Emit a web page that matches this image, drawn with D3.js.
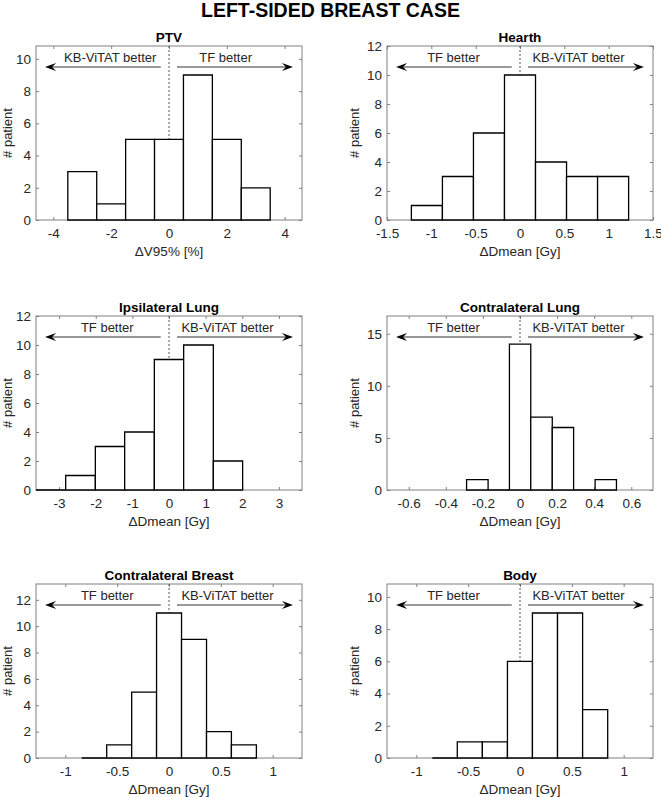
<!DOCTYPE html>
<html>
<head>
<meta charset="utf-8">
<script src="https://cdn.jsdelivr.net/npm/d3@7"></script>
<style>
  body { margin: 0; background: #fff; }
  text { font-family: "Liberation Sans", Arial, Helvetica, sans-serif; fill: #262626; }
</style>
</head>
<body>
<div id="chart-area"></div>
<script>
// figure data
var figTitle = "LEFT-SIDED BREAST CASE";
var panelTitles = ["PTV", "Hearth", "Ipsilateral Lung", "Contralateral Lung", "Contralateral Breast", "Body"];
var xLabels = ["\u0394V95% [%]", "\u0394Dmean [Gy]", "\u0394Dmean [Gy]", "\u0394Dmean [Gy]", "\u0394Dmean [Gy]", "\u0394Dmean [Gy]"];
var leftLabels = ["KB-ViTAT better", "TF better", "TF better", "TF better", "TF better", "TF better"];
var rightLabels = ["TF better", "KB-ViTAT better", "KB-ViTAT better", "KB-ViTAT better", "KB-ViTAT better", "KB-ViTAT better"];

// histogram bin edges and counts
var binEdges = [
  [-3.5, -2.5, -1.5, -0.5, 0.5, 1.5, 2.5, 3.5],
  [-1.225, -0.875, -0.525, -0.175, 0.175, 0.525, 0.875, 1.225],
  [-3.63, -2.82, -2.01, -1.21, -0.40, 0.40, 1.21, 2.01],
  [-0.288, -0.172, -0.057, 0.058, 0.174, 0.289, 0.405, 0.52],
  [-0.842, -0.601, -0.36, -0.12, 0.121, 0.362, 0.602, 0.843],
  [-0.846, -0.605, -0.363, -0.121, 0.12, 0.362, 0.604, 0.846]
];
var counts = [
  [3, 1, 5, 5, 9, 5, 2],
  [1, 3, 6, 10, 4, 3, 3],
  [0, 1, 3, 4, 9, 10, 2],
  [1, 0, 14, 7, 6, 0, 1],
  [0, 1, 5, 11, 9, 2, 1],
  [0, 1, 1, 6, 9, 9, 3]
];

// axis limits and ticks
var xDomains = [[-4.6, 4.6], [-1.5, 1.5], [-3.63, 3.63], [-0.717, 0.717], [-1.283, 1.283], [-1.283, 1.283]];
var yDomains = [[0, 10.8], [0, 12], [0, 12], [0, 16.7], [0, 13.2], [0, 10.8]];
var xTicks = [
  [-4, -2, 0, 2, 4],
  [-1.5, -1, -0.5, 0, 0.5, 1, 1.5],
  [-3, -2, -1, 0, 1, 2, 3],
  [-0.6, -0.4, -0.2, 0, 0.2, 0.4, 0.6],
  [-1, -0.5, 0, 0.5, 1],
  [-1, -0.5, 0, 0.5, 1]
];
var yTicks = [
  [0, 2, 4, 6, 8, 10],
  [0, 2, 4, 6, 8, 10, 12],
  [0, 2, 4, 6, 8, 10, 12],
  [0, 5, 10, 15],
  [0, 2, 4, 6, 8, 10, 12],
  [0, 2, 4, 6, 8, 10]
];

// layout
var W = 661, H = 797;
var colX = [36, 387], rowY = [46, 316, 584];
var pw = 266, ph = 174;
var labelPos = [[0.279, 0.713], [0.25, 0.72], [0.268, 0.72], [0.25, 0.72], [0.268, 0.72], [0.25, 0.72]];
var boxColor = "#808080";

var svg = d3.select("#chart-area")
  .append("svg")
    .attr("width", W)
    .attr("height", H);

svg.append("text")
  .attr("x", 330.5)
  .attr("y", 17)
  .attr("text-anchor", "middle")
  .attr("font-size", "19.5px")
  .attr("font-weight", "bold")
  .style("fill", "#000")
  .text(figTitle);

function fmt(d) { return String(+d.toFixed(2)); }

panelTitles.forEach(function(title, i) {
  var ox = colX[i % 2], oy = rowY[Math.floor(i / 2)];
  var g = svg.append("g").attr("transform", "translate(" + ox + "," + oy + ")");

  var x = d3.scaleLinear().domain(xDomains[i]).range([0, pw]);
  var y = d3.scaleLinear().domain(yDomains[i]).range([ph, 0]);

  // box
  g.append("rect")
    .attr("width", pw).attr("height", ph)
    .attr("fill", "none").attr("stroke", boxColor).attr("stroke-width", 1);

  // ticks on all four sides, pointing inward
  var xa = d3.axisBottom(x).tickValues(xTicks[i]).tickSizeInner(-3).tickSizeOuter(0).tickPadding(8).tickFormat(fmt);
  var gx = g.append("g").attr("transform", "translate(0," + ph + ")").call(xa);
  var xt = d3.axisTop(x).tickValues(xTicks[i]).tickSizeInner(-3).tickSizeOuter(0).tickFormat("");
  var gxt = g.append("g").call(xt);
  var ya = d3.axisLeft(y).tickValues(yTicks[i]).tickSizeInner(-3).tickSizeOuter(0).tickPadding(5).tickFormat(fmt);
  var gy = g.append("g").call(ya);
  var yr = d3.axisRight(y).tickValues(yTicks[i]).tickSizeInner(-3).tickSizeOuter(0).tickFormat("");
  var gyr = g.append("g").attr("transform", "translate(" + pw + ",0)").call(yr);

  [gx, gxt, gy, gyr].forEach(function(a) {
    a.select(".domain").remove();
    a.selectAll(".tick line").attr("stroke", boxColor);
    a.selectAll(".tick text")
      .attr("font-size", "13.5px")
      .attr("font-family", "Liberation Sans, Arial, sans-serif")
      .style("fill", "#262626");
  });

  // dashed zero line
  g.append("line")
    .attr("x1", x(0)).attr("x2", x(0))
    .attr("y1", 0).attr("y2", ph)
    .attr("stroke", "#555").attr("stroke-width", 1)
    .attr("stroke-dasharray", "2,2");

  // histogram bars
  var bins = counts[i].map(function(c, k) {
    return { x0: binEdges[i][k], x1: binEdges[i][k + 1], n: c };
  });
  g.selectAll("path.bar")
    .data(bins)
    .enter().append("path")
      .attr("class", "bar")
      .attr("d", function(d) {
        var a = x(d.x0), b = x(d.x1), top = y(d.n), base = y(0);
        return "M" + a + "," + base + "L" + a + "," + top + "L" + b + "," + top + "L" + b + "," + base + "Z";
      })
      .attr("fill", "#fff")
      .attr("stroke", "#000")
      .attr("stroke-width", 1.3);

  // annotation arrows
  var ay = 21;
  var lx = 0.034 * pw, rx = 0.966 * pw;
  g.append("line")
    .attr("x1", lx + 6).attr("x2", 0.469 * pw)
    .attr("y1", ay).attr("y2", ay)
    .attr("stroke", "#333").attr("stroke-width", 1);
  g.append("line")
    .attr("x1", 0.53 * pw).attr("x2", rx - 6)
    .attr("y1", ay).attr("y2", ay)
    .attr("stroke", "#333").attr("stroke-width", 1);
  g.append("path")
    .attr("d", "M" + lx + "," + ay + "L" + (lx + 11) + "," + (ay - 4) + "L" + (lx + 7) + "," + ay + "L" + (lx + 11) + "," + (ay + 4) + "Z")
    .attr("fill", "#000");
  g.append("path")
    .attr("d", "M" + rx + "," + ay + "L" + (rx - 11) + "," + (ay - 4) + "L" + (rx - 7) + "," + ay + "L" + (rx - 11) + "," + (ay + 4) + "Z")
    .attr("fill", "#000");

  g.append("text")
    .attr("x", labelPos[i][0] * pw).attr("y", 16)
    .attr("text-anchor", "middle")
    .attr("font-size", "13px")
    .text(leftLabels[i]);
  g.append("text")
    .attr("x", labelPos[i][1] * pw).attr("y", 16)
    .attr("text-anchor", "middle")
    .attr("font-size", "13px")
    .text(rightLabels[i]);

  // titles and axis labels
  g.append("text")
    .attr("x", pw / 2).attr("y", -4)
    .attr("text-anchor", "middle")
    .attr("font-size", "13.5px")
    .attr("font-weight", "bold")
    .style("fill", "#000")
    .text(title);

  g.append("text")
    .attr("x", pw / 2).attr("y", ph + 36)
    .attr("text-anchor", "middle")
    .attr("font-size", "13.5px")
    .text(xLabels[i]);

  g.append("text")
    .attr("transform", "translate(" + (i % 2 ? -28 : -24) + "," + (ph / 2) + ") rotate(-90)")
    .attr("text-anchor", "middle")
    .attr("font-size", "13px")
    .text("# patient");
});
</script>
</body>
</html>
